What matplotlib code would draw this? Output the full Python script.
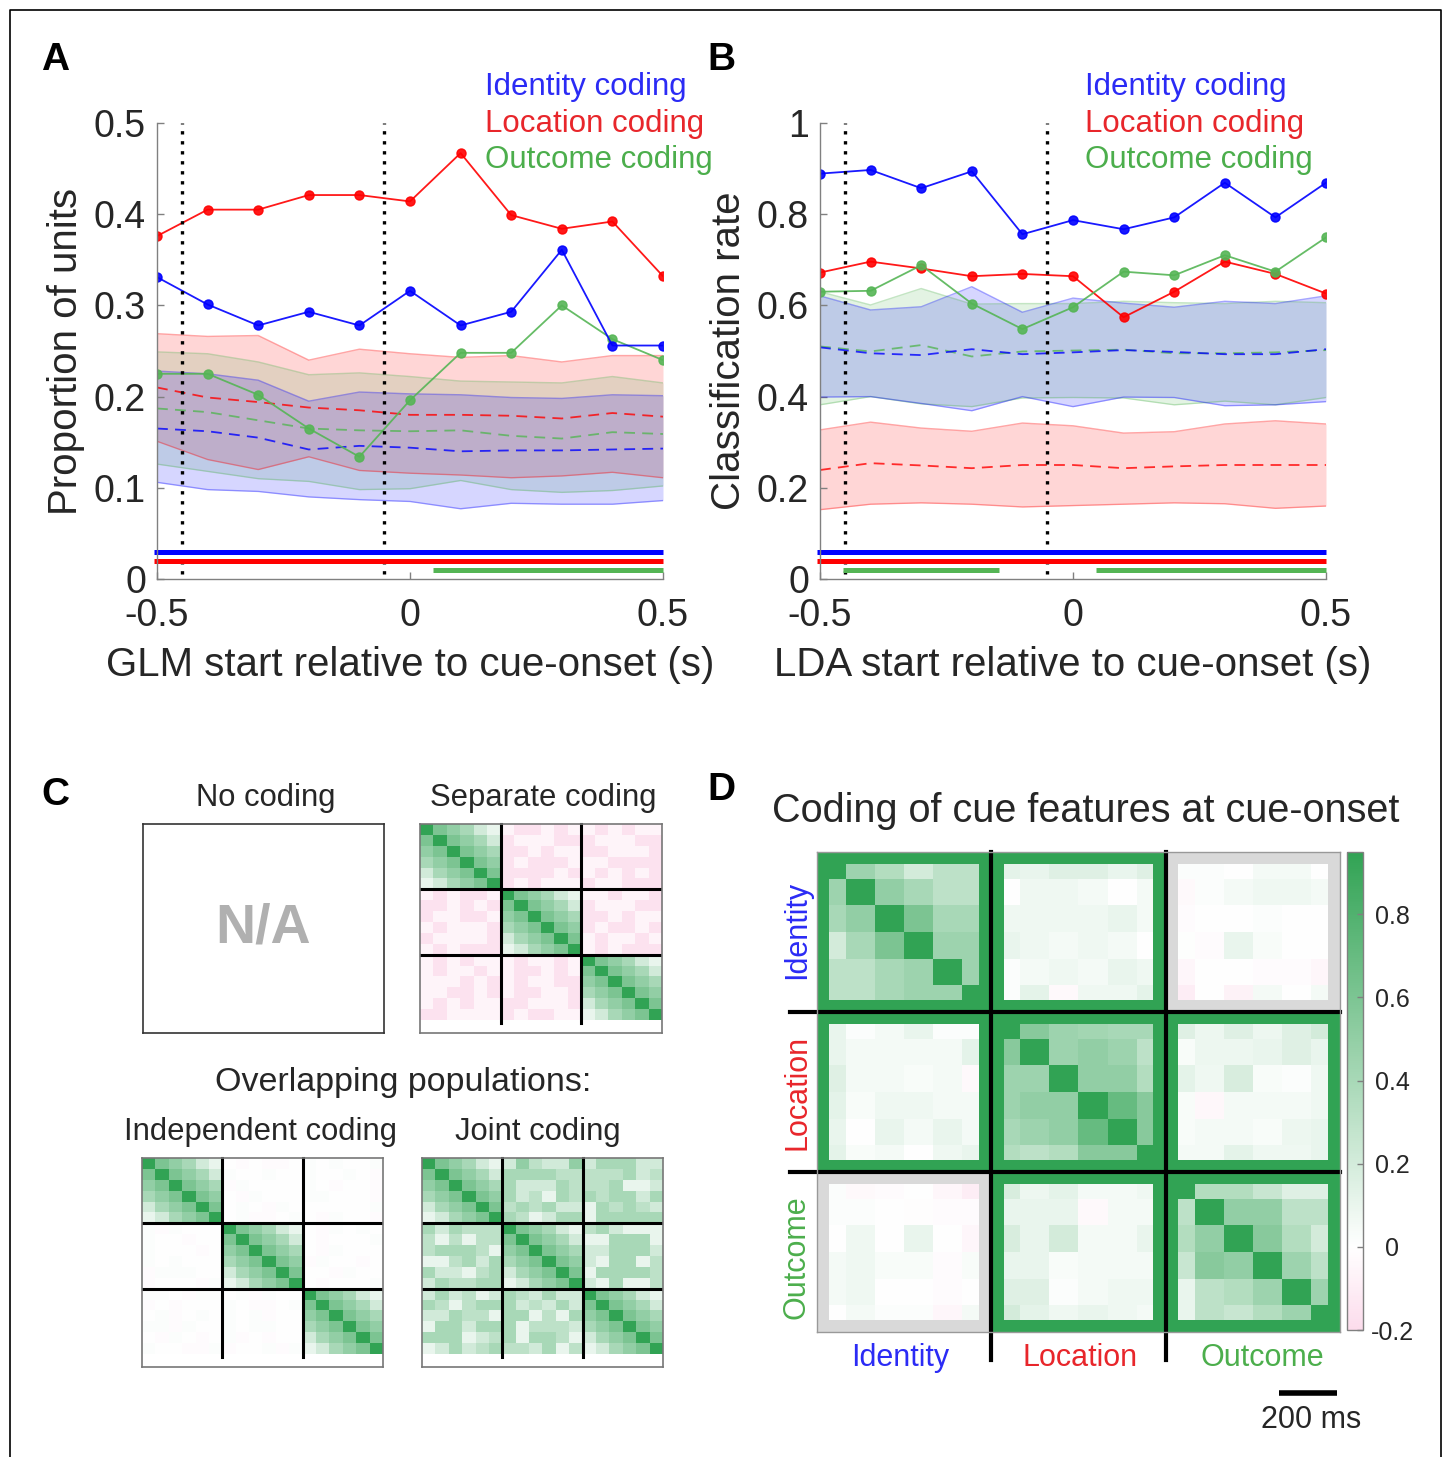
import numpy as np
import matplotlib
matplotlib.use("Agg")
from matplotlib import pyplot as plt
from matplotlib.colors import LinearSegmentedColormap
from matplotlib.patches import Rectangle
from matplotlib.lines import Line2D

plt.rcParams["font.family"] = ["Liberation Sans", "DejaVu Sans"]

W, H = 1447, 1457

BLUE, RED, GREEN = "#0000ff", "#ff0000", "#55b555"
TXT_BLUE, TXT_RED, TXT_GREEN = "#2b2bf5", "#e8262b", "#4cae4c"
GREY_TXT = "#262626"

# ---------------- panel A / B data ----------------
t_start = [-0.5, -0.4, -0.3, -0.2, -0.1, 0.0, 0.1, 0.2, 0.3, 0.4, 0.5]

# A : proportion of units
a_identity = [0.331, 0.301, 0.278, 0.293, 0.278, 0.316, 0.278, 0.293, 0.361, 0.256, 0.256]
a_location = [0.376, 0.405, 0.405, 0.421, 0.421, 0.414, 0.467, 0.399, 0.384, 0.392, 0.332]
a_outcome = [0.225, 0.225, 0.202, 0.165, 0.134, 0.196, 0.248, 0.248, 0.300, 0.263, 0.240]

a_id_mean = [0.165, 0.162, 0.155, 0.142, 0.146, 0.144, 0.140, 0.141, 0.141, 0.142, 0.143]
a_id_lo = [0.106, 0.098, 0.096, 0.090, 0.087, 0.085, 0.077, 0.083, 0.082, 0.082, 0.086]
a_id_hi = [0.228, 0.225, 0.218, 0.195, 0.205, 0.203, 0.202, 0.199, 0.198, 0.202, 0.201]
a_loc_mean = [0.210, 0.199, 0.194, 0.188, 0.185, 0.180, 0.180, 0.179, 0.176, 0.182, 0.178]
a_loc_lo = [0.151, 0.131, 0.120, 0.134, 0.119, 0.116, 0.114, 0.111, 0.113, 0.117, 0.111]
a_loc_hi = [0.269, 0.266, 0.267, 0.240, 0.252, 0.247, 0.243, 0.245, 0.238, 0.245, 0.245]
a_out_mean = [0.187, 0.183, 0.174, 0.165, 0.163, 0.162, 0.163, 0.157, 0.154, 0.161, 0.159]
a_out_lo = [0.126, 0.118, 0.110, 0.107, 0.098, 0.099, 0.108, 0.098, 0.095, 0.097, 0.102]
a_out_hi = [0.249, 0.247, 0.238, 0.224, 0.226, 0.222, 0.217, 0.216, 0.215, 0.222, 0.215]

# B : classification rate
b_identity = [0.889, 0.897, 0.857, 0.894, 0.756, 0.787, 0.767, 0.793, 0.869, 0.793, 0.869]
b_location = [0.672, 0.696, 0.681, 0.664, 0.669, 0.664, 0.574, 0.630, 0.696, 0.669, 0.626]
b_outcome = [0.630, 0.632, 0.688, 0.604, 0.548, 0.596, 0.674, 0.666, 0.710, 0.674, 0.749]

b_id_mean = [0.508, 0.495, 0.491, 0.504, 0.493, 0.497, 0.502, 0.498, 0.493, 0.493, 0.504]
b_id_lo = [0.399, 0.400, 0.385, 0.369, 0.400, 0.378, 0.399, 0.398, 0.380, 0.382, 0.389]
b_id_hi = [0.621, 0.590, 0.597, 0.641, 0.585, 0.616, 0.605, 0.596, 0.609, 0.604, 0.621]
b_loc_mean = [0.239, 0.254, 0.249, 0.243, 0.250, 0.250, 0.243, 0.247, 0.250, 0.250, 0.250]
b_loc_lo = [0.152, 0.164, 0.167, 0.164, 0.158, 0.161, 0.164, 0.167, 0.165, 0.155, 0.160]
b_loc_hi = [0.327, 0.344, 0.331, 0.324, 0.342, 0.336, 0.320, 0.323, 0.340, 0.347, 0.340]
b_out_mean = [0.510, 0.499, 0.513, 0.488, 0.499, 0.501, 0.503, 0.495, 0.495, 0.497, 0.502]
b_out_lo = [0.382, 0.400, 0.384, 0.378, 0.397, 0.398, 0.397, 0.382, 0.390, 0.382, 0.398]
b_out_hi = [0.630, 0.601, 0.637, 0.603, 0.604, 0.604, 0.609, 0.606, 0.604, 0.609, 0.606]

# significant periods (start, end)
a_sig_id = [(-0.505, 0.5)]
a_sig_loc = [(-0.505, 0.5)]
a_sig_out = [(0.045, 0.5)]
b_sig_id = [(-0.505, 0.5)]
b_sig_loc = [(-0.505, 0.5)]
b_sig_out = [(-0.454, -0.147), (0.045, 0.5)]

event_times = [-0.451, -0.052]

# ---------------- panel C schematic matrices ----------------
code_values = {"D": 0.95, "6": 0.6, "5": 0.5, "4": 0.4, "3": 0.3, "2": 0.21,
               "1": 0.1, "+": 0.02, ".": 0.0, "-": -0.02, "a": -0.06, "c": -0.16}

separate_rows = [
    "D65421accacaacacaa",
    "6D6542caaacccaaacc",
    "56D654ccacaaccaaac",
    "456D65cacccaaacccc",
    "2456D6ccccacacacac",
    "12456Dcacaaacaaccc",
    "acaccaD65421aacaac",
    "ccacac6D6542caaacc",
    "caacca56D654ccacaa",
    "acaaac456D65caccac",
    "caaaac2456D6acaaca",
    "acaccc12456Dacaccc",
    "acacaaacaacaD65421",
    "acaacaaccaca6D6542",
    "aaacacacaacc56D654",
    "aaccacaccaac456D65",
    "acacaaccaaac2456D6",
    "ccaaaacaccaa12456D",
]

independent_rows = [
    "D65421.-.--.+.+..+",
    "6D6542+..+..+..+.-",
    "56D654-+....+.-..-",
    "456D65.-+...++...-",
    "2456D6.+.-+......+",
    "12456D.+--.+.-+..-",
    "+-+...D65421.-+.+.",
    "+..-..6D6542.-...+",
    "+...-.56D654.-+...",
    "+.+...456D65-+..-.",
    "-+++..2456D6..-+..",
    "-...-+12456D.-...+",
    "++.-++.+-+..D65421",
    "-.-...+.--.+6D6542",
    ".+-.+.+.+-..56D654",
    "++-+..+.++..456D65",
    ".-+.-.+-.-..2456D6",
    "+..--+-..+-+12456D",
]

joint_rows = [
    "D65421253225244422",
    "6D6542444433333423",
    "56D654422243334112",
    "456D65423143434424",
    "2456D6343422143432",
    "12456D431244144444",
    "424333D65421342111",
    "3131336D6542114441",
    "34443156D654224442",
    "113424456D65214413",
    "4221342456D6144443",
    "24334412456D214113",
    "242312432422D65421",
    "4313444232426D6542",
    "22433144131456D654",
    "144244413332456D65",
    "4441234144312456D6",
    "12423433241312456D",
]

# ---------------- panel D cross-temporal matrix ----------------
cue_rsa = [
    [0.95, 0.45, 0.35, 0.20, 0.30, 0.30, 0.12, 0.10, 0.15, 0.15, 0.10, 0.15, 0.02, 0.02, 0.00, 0.05, 0.05, 0.00],
    [0.45, 0.95, 0.50, 0.40, 0.30, 0.30, 0.00, 0.07, 0.07, 0.05, 0.00, 0.05, -0.03, 0.02, 0.05, 0.07, 0.07, 0.05],
    [0.40, 0.50, 0.95, 0.60, 0.40, 0.40, 0.07, 0.07, 0.07, 0.07, 0.10, 0.05, -0.02, 0.00, 0.00, 0.02, 0.00, 0.00],
    [0.20, 0.40, 0.60, 0.95, 0.45, 0.45, 0.10, 0.07, 0.05, 0.07, 0.05, 0.00, 0.01, -0.02, 0.10, 0.03, 0.00, 0.00],
    [0.30, 0.30, 0.40, 0.45, 0.95, 0.45, 0.02, 0.05, 0.07, 0.05, 0.10, 0.07, -0.05, 0.00, 0.00, -0.02, -0.02, -0.05],
    [0.30, 0.30, 0.40, 0.45, 0.45, 0.95, 0.02, 0.12, -0.03, 0.07, 0.07, 0.12, -0.10, 0.00, -0.07, 0.05, 0.00, 0.05],
    [0.10, 0.02, 0.05, 0.10, 0.02, 0.02, 0.95, 0.55, 0.45, 0.42, 0.40, 0.40, 0.15, 0.08, 0.15, 0.08, 0.15, 0.20],
    [0.10, 0.05, 0.05, 0.05, 0.05, 0.12, 0.55, 0.95, 0.45, 0.50, 0.45, 0.30, 0.03, 0.08, 0.08, 0.10, 0.15, 0.10],
    [0.15, 0.05, 0.05, 0.03, 0.05, -0.03, 0.45, 0.45, 0.95, 0.50, 0.50, 0.35, 0.12, 0.07, 0.18, 0.03, 0.02, 0.07],
    [0.12, 0.03, 0.07, 0.07, 0.05, 0.05, 0.45, 0.50, 0.50, 0.95, 0.70, 0.55, 0.03, -0.04, 0.05, 0.05, 0.05, 0.07],
    [0.10, 0.00, 0.10, 0.05, 0.10, 0.05, 0.40, 0.45, 0.50, 0.70, 0.95, 0.55, 0.03, 0.05, 0.05, 0.03, 0.08, 0.10],
    [0.12, 0.03, 0.05, 0.00, 0.07, 0.10, 0.35, 0.30, 0.35, 0.55, 0.55, 0.95, 0.05, 0.05, 0.12, 0.07, 0.07, 0.10],
    [0.02, -0.03, -0.02, 0.00, -0.05, -0.10, 0.18, 0.08, 0.12, 0.05, 0.05, 0.07, 0.95, 0.35, 0.35, 0.25, 0.15, 0.15],
    [0.02, 0.02, 0.00, -0.01, -0.02, -0.02, 0.10, 0.10, 0.10, -0.03, 0.05, 0.05, 0.30, 0.95, 0.50, 0.50, 0.30, 0.30],
    [0.00, 0.07, 0.00, 0.10, 0.00, -0.05, 0.18, 0.10, 0.20, 0.05, 0.05, 0.10, 0.35, 0.50, 0.95, 0.55, 0.35, 0.20],
    [0.05, 0.07, 0.03, 0.03, -0.02, 0.03, 0.10, 0.10, 0.03, 0.05, 0.05, 0.05, 0.25, 0.55, 0.50, 0.95, 0.45, 0.30],
    [0.05, 0.07, 0.00, 0.00, -0.02, 0.00, 0.15, 0.15, 0.02, 0.05, 0.07, 0.07, 0.10, 0.30, 0.35, 0.45, 0.95, 0.45],
    [0.00, 0.05, 0.02, 0.02, -0.05, 0.05, 0.20, 0.12, 0.07, 0.10, 0.07, 0.05, 0.10, 0.30, 0.25, 0.35, 0.45, 0.95],
]
block_significant = [[1, 1, 0],
                     [1, 1, 1],
                     [0, 1, 1]]
features = ["Identity", "Location", "Outcome"]
feature_colors = [TXT_BLUE, TXT_RED, TXT_GREEN]
cbar_ticks = [-0.2, 0, 0.2, 0.4, 0.6, 0.8]

VMIN, VMAX = -0.2, 0.95
MAX_GREEN = "#31a354"
cmap = LinearSegmentedColormap.from_list(
    "pinkgreen", [(0.0, "#fcdcec"), ((0 - VMIN) / (VMAX - VMIN), "#ffffff"), (1.0, MAX_GREEN)])


def px_rect(x0, y0, x1, y1):
    return [x0 / W, 1 - y1 / H, (x1 - x0) / W, (y1 - y0) / H]


def ftext(x, y, s, **kw):
    return fig.text(x / W, 1 - y / H, s, **kw)


def decode(rows):
    return np.array([[code_values[ch] for ch in r] for r in rows])


def style_line_axes(ax, ymax, yticks, ylabels):
    for side in ["top", "right"]:
        ax.spines[side].set_visible(False)
    for side in ["left", "bottom"]:
        ax.spines[side].set_color("#808080")
        ax.spines[side].set_linewidth(1.0)
    ax.set_xlim(-0.5, 0.5)
    ax.set_ylim(0, ymax)
    ax.set_xticks([-0.5, 0, 0.5])
    ax.set_xticklabels(["-0.5", "0", "0.5"])
    ax.set_yticks(yticks)
    ax.set_yticklabels(ylabels)
    ax.tick_params(direction="in", length=5, width=1, color="#808080",
                   labelcolor=GREY_TXT, labelsize=27)
    ax.tick_params(axis="y", pad=8)
    ax.tick_params(axis="x", pad=14)


def draw_lines_panel(ax, ymax, series, sigs):
    for obs, mean, lo, hi, col in series:
        ax.fill_between(t_start, lo, hi, color=col, alpha=0.16, lw=0)
        ax.plot(t_start, lo, color=col, alpha=0.35, lw=1.0)
        ax.plot(t_start, hi, color=col, alpha=0.35, lw=1.0)
    for obs, mean, lo, hi, col in series:
        ax.plot(t_start, mean, color=col, alpha=0.8, lw=1.3, dashes=(6, 4))
    for obs, mean, lo, hi, col in series:
        ax.plot(t_start, obs, "-o", color=col, lw=1.3, ms=6.5, alpha=0.9)
    for ev in event_times:
        ax.plot([ev, ev], [0.01 * ymax, ymax], color="k", lw=2.4,
                ls=(0, (1, 2)), clip_on=False)
    for k, (segs, col) in enumerate(sigs):
        level = (0.06 - 0.02 * k) * ymax
        for s0, s1 in segs:
            ax.plot([s0, s1], [level, level], color=col, lw=3.6,
                    solid_capstyle="butt", clip_on=False)


fig = plt.figure(figsize=(W / 100, H / 100), dpi=100)

# ---------------- A ----------------
axA = fig.add_axes(px_rect(157, 123, 663, 579))
draw_lines_panel(
    axA, 0.5,
    [(a_location, a_loc_mean, a_loc_lo, a_loc_hi, RED),
     (a_outcome, a_out_mean, a_out_lo, a_out_hi, GREEN),
     (a_identity, a_id_mean, a_id_lo, a_id_hi, BLUE)],
    [(a_sig_id, BLUE), (a_sig_loc, RED), (a_sig_out, GREEN)])
style_line_axes(axA, 0.5, [0, 0.1, 0.2, 0.3, 0.4, 0.5],
                ["0", "0.1", "0.2", "0.3", "0.4", "0.5"])
axA.set_ylabel("Proportion of units", fontsize=29, color=GREY_TXT)
axA.yaxis.set_label_coords(-0.142, 0.5)
axA.set_xlabel("GLM start relative to cue-onset (s)", fontsize=29, color=GREY_TXT)
axA.xaxis.set_label_coords(0.5, -0.148)

# ---------------- B ----------------
axB = fig.add_axes(px_rect(820, 123, 1326, 579))
draw_lines_panel(
    axB, 1.0,
    [(b_location, b_loc_mean, b_loc_lo, b_loc_hi, RED),
     (b_outcome, b_out_mean, b_out_lo, b_out_hi, GREEN),
     (b_identity, b_id_mean, b_id_lo, b_id_hi, BLUE)],
    [(b_sig_id, BLUE), (b_sig_loc, RED), (b_sig_out, GREEN)])
style_line_axes(axB, 1.0, [0, 0.2, 0.4, 0.6, 0.8, 1.0],
                ["0", "0.2", "0.4", "0.6", "0.8", "1"])
axB.set_ylabel("Classification rate", fontsize=29, color=GREY_TXT)
axB.yaxis.set_label_coords(-0.142, 0.5)
axB.set_xlabel("LDA start relative to cue-onset (s)", fontsize=29, color=GREY_TXT)
axB.xaxis.set_label_coords(0.5, -0.148)

for x0 in [485, 1085]:
    ftext(x0, 95, "Identity coding", color=TXT_BLUE, fontsize=22.5, va="baseline")
    ftext(x0, 132, "Location coding", color=TXT_RED, fontsize=22.5, va="baseline")
    ftext(x0, 168, "Outcome coding", color=TXT_GREEN, fontsize=22.5, va="baseline")

# ---------------- C ----------------
def small_matrix(rect, rows):
    ax = fig.add_axes(rect)
    ax.imshow(decode(rows), cmap=cmap, vmin=VMIN, vmax=VMAX,
              aspect="auto", interpolation="nearest")
    for b in [5.5, 11.5]:
        ax.plot([-0.5, 17.5], [b, b], color="k", lw=2.2)
        ax.plot([b, b], [-0.5, 17.8], color="k", lw=2.2, clip_on=False)
    ax.set_xticks([])
    ax.set_yticks([])
    for sp in ax.spines.values():
        sp.set_color("#777777")
        sp.set_linewidth(1.2)
    return ax


axNA = fig.add_axes(px_rect(143, 824, 384, 1033))
axNA.set_xticks([])
axNA.set_yticks([])
for sp in axNA.spines.values():
    sp.set_color("#333333")
    sp.set_linewidth(1.2)
axNA.text(0.5, 0.5, "N/A", transform=axNA.transAxes, ha="center", va="center",
          fontsize=40, fontweight="bold", color="#b0b0b0")

small_matrix(px_rect(420, 824, 662, 1033), separate_rows)
small_matrix(px_rect(142, 1158, 383, 1367), independent_rows)
small_matrix(px_rect(422, 1158, 663, 1367), joint_rows)

ftext(266, 806, "No coding", fontsize=22.3, ha="center", va="baseline", color=GREY_TXT)
ftext(543, 806, "Separate coding", fontsize=22.3, ha="center", va="baseline", color=GREY_TXT)
ftext(403, 1091, "Overlapping populations:", fontsize=24.5, ha="center", va="baseline",
      color=GREY_TXT)
ftext(260, 1140, "Independent coding", fontsize=22.3, ha="center", va="baseline",
      color=GREY_TXT)
ftext(538, 1140, "Joint coding", fontsize=22.3, ha="center", va="baseline", color=GREY_TXT)

# ---------------- D ----------------
axD = fig.add_axes(px_rect(817, 852, 1340, 1332))
im = axD.imshow(np.array(cue_rsa), cmap=cmap, vmin=VMIN, vmax=VMAX,
                aspect="auto", interpolation="nearest")
fw_x, fw_y = 0.42, 0.46
for bi in range(3):
    for bj in range(3):
        col = MAX_GREEN if block_significant[bi][bj] else "#d9d9d9"
        x0, y0 = bj * 6 - 0.5, bi * 6 - 0.5
        for rx, ry, rw, rh in [(x0, y0, 6, fw_y), (x0, y0 + 6 - fw_y, 6, fw_y),
                               (x0, y0, fw_x, 6), (x0 + 6 - fw_x, y0, fw_x, 6)]:
            axD.add_patch(Rectangle((rx, ry), rw, rh, facecolor=col, edgecolor="none"))
for b in [5.5, 11.5]:
    axD.plot([-1.43, 17.5], [b, b], color="k", lw=3, clip_on=False)
    axD.plot([b, b], [-0.5, 18.55], color="k", lw=3, clip_on=False)
axD.set_xlim(-0.5, 17.5)
axD.set_ylim(17.5, -0.5)
axD.set_xticks([])
axD.set_yticks([])
for sp in axD.spines.values():
    sp.set_color("#999999")
    sp.set_linewidth(1.0)

cax = fig.add_axes(px_rect(1347, 852, 1363, 1330))
cb = fig.colorbar(im, cax=cax, ticks=cbar_ticks)
cb.ax.set_yticklabels(["-0.2", "0", "0.2", "0.4", "0.6", "0.8"])
cb.ax.tick_params(direction="in", length=4, width=1, color="#808080",
                  labelcolor=GREY_TXT, labelsize=18, pad=21)
for lbl in cb.ax.get_yticklabels():
    lbl.set_horizontalalignment("center")
cb.outline.set_edgecolor("#808080")
cb.outline.set_linewidth(1.0)

ftext(1086, 822, "Coding of cue features at cue-onset", fontsize=28.5, ha="center",
      va="baseline", color=GREY_TXT)
for name, col, yc, xc in zip(features, feature_colors, [930, 1092, 1257], [900, 1080, 1262]):
    ftext(797, yc, name, fontsize=22, color=col, rotation=90, ha="center", va="center")
    ftext(xc, 1366, name, fontsize=22, color=col, ha="center", va="baseline")

# scale bar (200 ms = 2 bins)
fig.add_artist(Line2D([1279 / W, 1337 / W], [1 - 1393 / H, 1 - 1393 / H],
                      color="k", lw=4, solid_capstyle="butt"))
ftext(1311, 1428, "200 ms", fontsize=22, ha="center", va="baseline", color=GREY_TXT)

# panel letters
for letter, x, y in [("A", 41, 70), ("B", 707, 70), ("C", 41, 805), ("D", 707, 800)]:
    ftext(x, y, letter, fontsize=28, fontweight="bold", va="baseline", color="k")

# outer frame (left, top, right)
fx0, fx1, fy1 = 10 / W, 1441 / W, 1 - 10 / H
fig.add_artist(Line2D([fx0, fx0, fx1, fx1], [0, fy1, fy1, 0], color="k", lw=1.2))

fig.savefig("out.png", dpi=100)
